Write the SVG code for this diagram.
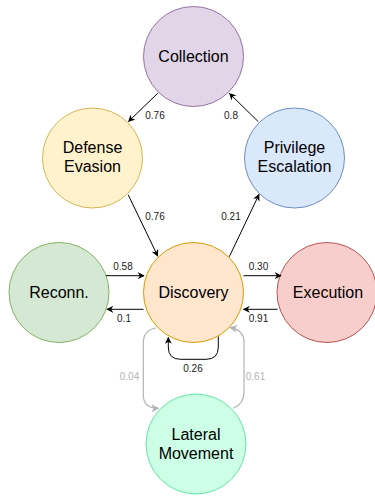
<svg xmlns="http://www.w3.org/2000/svg" width="375" height="497" viewBox="0 0 375 497">
<style>
.n{stroke-width:1}
.t{font-family:"Liberation Sans",Arial,sans-serif;font-size:16px;fill:#000;text-anchor:middle}
.l{font-family:"Liberation Sans",Arial,sans-serif;font-size:10px;fill:#1a1a1a;text-anchor:middle}
.lg{font-family:"Liberation Sans",Arial,sans-serif;font-size:10px;fill:#b3b3b3;text-anchor:middle}
.e{fill:none;stroke:#000;stroke-width:1;marker-end:url(#a)}
.g{fill:none;stroke:#b3b3b3;stroke-width:1.2;marker-end:url(#ag)}
</style>
<defs>
<marker id="a" viewBox="0 0 10 10" refX="9" refY="5" markerWidth="7" markerHeight="7" orient="auto" markerUnits="userSpaceOnUse">
<path d="M0,0 L10,5 L0,10 L3,5 z" fill="#000"/>
</marker>
<marker id="ag" viewBox="0 0 10 10" refX="9" refY="5" markerWidth="8" markerHeight="8" orient="auto" markerUnits="userSpaceOnUse">
<path d="M0,0 L10,5 L0,10 L3,5 z" fill="#b3b3b3"/>
</marker>
</defs>
<g id="collection"><circle class="n" cx="193.5" cy="56.5" r="50" fill="#e1d5e7" stroke="#9673a6"/><text class="t" x="193.5" y="62">Collection</text></g>
<g id="defense-evasion"><circle class="n" cx="92.5" cy="158" r="50" fill="#fff2cc" stroke="#d6b656"/><text class="t" x="92.5" y="153">Defense</text><text class="t" x="92.5" y="172">Evasion</text></g>
<g id="privilege-escalation"><circle class="n" cx="294.5" cy="158" r="50" fill="#dae8fc" stroke="#6c8ebf"/><text class="t" x="294.5" y="153">Privilege</text><text class="t" x="294.5" y="172">Escalation</text></g>
<g id="reconn"><circle class="n" cx="59" cy="292.5" r="50" fill="#d5e8d4" stroke="#82b366"/><text class="t" x="59" y="298">Reconn.</text></g>
<g id="discovery"><circle class="n" cx="193.5" cy="292.5" r="50" fill="#ffe6cc" stroke="#d79b00"/><text class="t" x="193.5" y="298">Discovery</text></g>
<g id="execution"><circle class="n" cx="327" cy="292.5" r="50" fill="#f8cecc" stroke="#b85450"/><text class="t" x="328" y="298">Execution</text></g>
<g id="lateral-movement"><circle class="n" cx="196" cy="444" r="50" fill="#ccffe6" stroke="#66e6a6"/><text class="t" x="196" y="439.5">Lateral</text><text class="t" x="196" y="459">Movement</text></g>
<g id="connectors">
<path class="e" d="M157.7,93.3 L128.5,121.5"/>
<text class="l" x="155" y="118.5">0.76</text>
<path class="e" d="M258.3,121.7 L229.5,93.5"/>
<text class="l" x="231" y="118.5">0.8</text>
<path class="e" d="M128.3,195 L157.7,256"/>
<text class="l" x="155" y="219.5">0.76</text>
<path class="e" d="M229.3,256.7 L259,194.5"/>
<text class="l" x="231" y="219.5">0.21</text>
<path class="e" d="M106,275.7 L144,275.7"/>
<text class="l" x="123" y="270">0.58</text>
<path class="e" d="M143.5,309.3 L107,309.3"/>
<text class="l" x="124" y="321.5">0.1</text>
<path class="e" d="M243.5,275.7 L281,275.7"/>
<text class="l" x="258.5" y="270">0.30</text>
<path class="e" d="M277.5,309.3 L243.5,309.3"/>
<text class="l" x="258.5" y="321.5">0.91</text>
<path class="e" d="M218.3,336.5 L218.3,347 Q218.3,359.3 206,359.3 L180.5,359.3 Q168.3,359.3 168.3,347 L168.3,337.5"/>
<text class="l" x="193" y="371.5">0.26</text>
<path class="g" d="M156,328 Q143.3,330 143.3,343 L143.3,395 Q143.3,408.3 158.5,408.3"/>
<text class="lg" x="129.5" y="379.5">0.04</text>
<path class="g" d="M233.3,408.3 Q244,404 244,392 L244,342 Q244,330 230,327.7"/>
<text class="lg" x="255.5" y="379.5">0.61</text>
</g>
</svg>
